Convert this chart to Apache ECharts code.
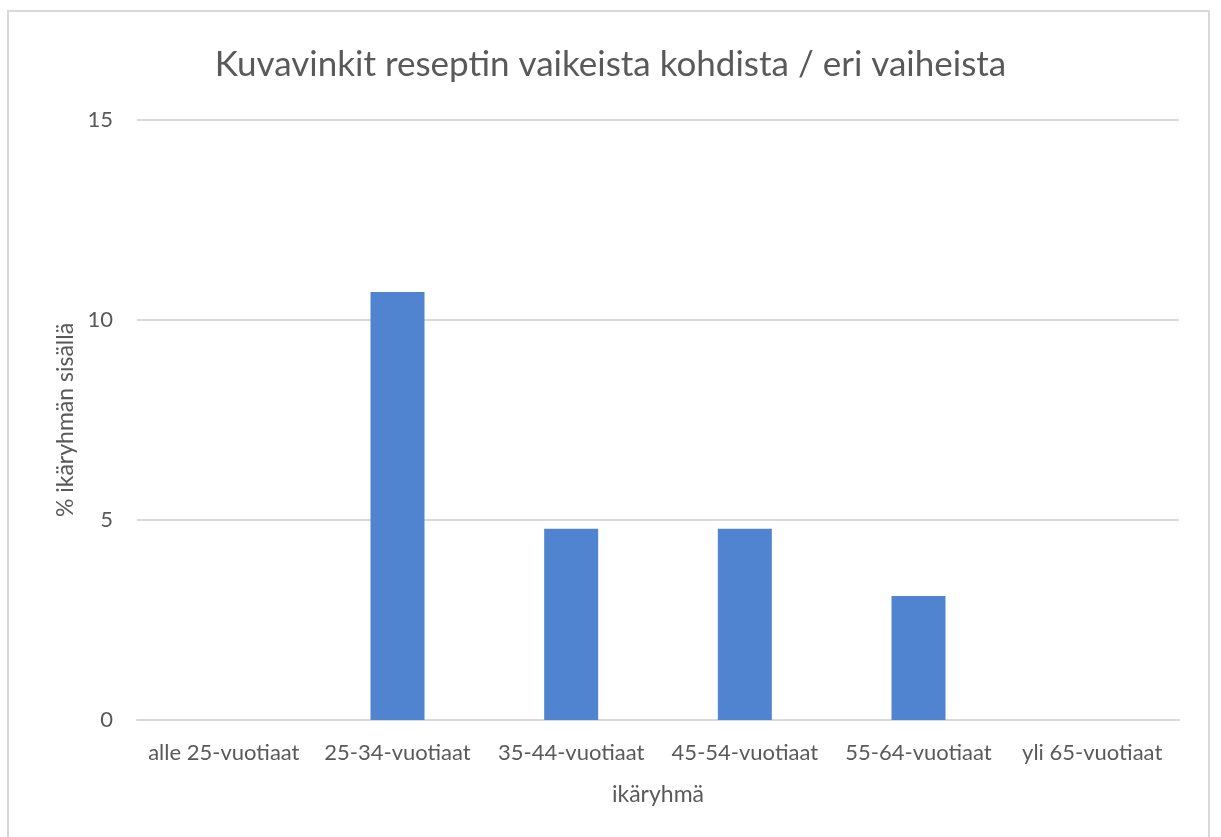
<!DOCTYPE html>
<html>
<head>
<meta charset="utf-8">
<script src="https://cdn.jsdelivr.net/npm/echarts@6/dist/echarts.min.js"></script>
<style>
    html, body { margin: 0; padding: 0; background: #fff; }
    #frame {
        position: absolute; left: 7px; top: 10px; width: 1203px; height: 840px;
        border: 2px solid #d9d9d9; box-sizing: border-box;
    }
    #chart { position: absolute; left: 0; top: 0; width: 1221px; height: 837px; }
</style>
</head>
<body>
<div id="frame"></div>
<div id="chart"></div>
<script>
    const titleText = 'Kuvavinkit reseptin vaikeista kohdista / eri vaiheista';
    const categories = ['alle 25-vuotiaat', '25-34-vuotiaat', '35-44-vuotiaat', '45-54-vuotiaat', '55-64-vuotiaat', 'yli 65-vuotiaat'];
    const values = [0, 10.7, 4.78, 4.78, 3.1, 0];
    const xName = 'ikäryhmä';
    const yName = '% ikäryhmän sisällä';

    const font = 'Lato, "Open Sans", sans-serif';
    const grey = '#595959';

    var myChart = echarts.init(document.getElementById('chart'));
    myChart.setOption({
        animation: false,
        title: {
            text: titleText,
            left: 'center',
            top: 42,
            textStyle: { fontFamily: font, fontSize: 35, fontWeight: 'normal', color: grey }
        },
        grid: { left: 137, right: 42, top: 120, bottom: 117 },
        xAxis: {
            type: 'category',
            data: categories,
            name: xName,
            nameLocation: 'middle',
            nameGap: 63,
            nameTextStyle: { fontFamily: font, fontSize: 23, color: grey },
            axisLine: { lineStyle: { color: '#d9d9d9', width: 2 } },
            axisTick: { show: false },
            axisLabel: { fontFamily: font, fontSize: 22, color: grey, margin: 22, interval: 0 }
        },
        yAxis: {
            type: 'value',
            min: 0,
            max: 15,
            interval: 5,
            name: yName,
            nameLocation: 'middle',
            nameGap: 58,
            nameTextStyle: { fontFamily: font, fontSize: 23, color: grey },
            axisLine: { show: false },
            axisTick: { show: false },
            axisLabel: { fontFamily: font, fontSize: 22, color: grey, margin: 24 },
            splitLine: { lineStyle: { color: '#d9d9d9', width: 2 } }
        },
        series: [{
            type: 'bar',
            data: values,
            barWidth: 54,
            itemStyle: { color: '#5184d0' }
        }]
    });
</script>
</body>
</html>
